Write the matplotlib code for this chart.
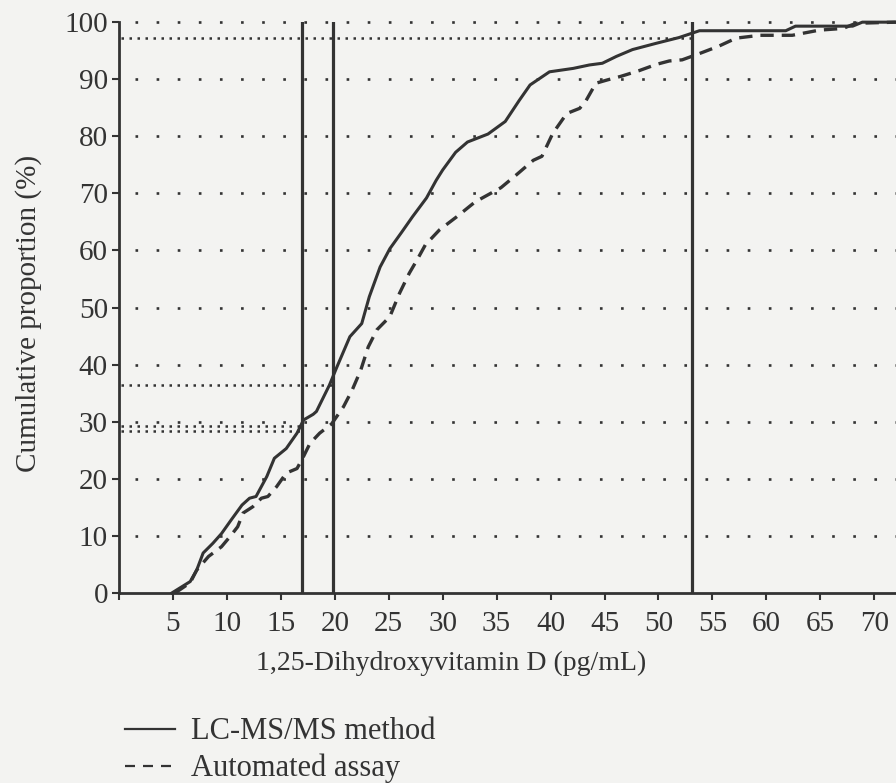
import matplotlib
matplotlib.use('Agg')
import matplotlib.pyplot as plt
from matplotlib.lines import Line2D

# data
lcms_x = [4.9, 6.6, 7.2, 7.8, 8.7, 9.5, 10.4, 11.4, 12.1, 12.7, 13.7, 14.4, 15.5, 16.5, 17.1,
          18.0, 18.3, 18.9, 19.5, 20.2, 21.4, 22.5, 23.2, 24.2, 25.1, 26.2, 27.2, 28.5, 29.4,
          30.0, 31.2, 32.3, 34.2, 35.8, 37.1, 38.1, 39.9, 42.1, 43.6, 44.8, 46.1, 47.6, 49.8,
          51.9, 53.8, 61.8, 62.7, 68.0, 68.9, 72.0]
lcms_y = [0, 2.0, 4.0, 7.0, 8.7, 10.4, 12.8, 15.4, 16.6, 16.9, 20.4, 23.6, 25.3, 28.0, 30.3,
          31.3, 31.8, 34.1, 36.4, 39.6, 44.9, 47.2, 51.9, 57.1, 60.3, 63.2, 65.9, 69.2, 72.3,
          74.1, 77.2, 79.0, 80.4, 82.6, 86.3, 89.0, 91.3, 91.9, 92.5, 92.8, 94.0, 95.2, 96.3,
          97.3, 98.5, 98.5, 99.3, 99.3, 100, 100]

auto_x = [5.2, 6.6, 7.2, 8.3, 9.5, 10.3, 11.0, 11.5, 12.4, 13.2, 13.8, 14.6, 15.5, 16.5, 17.1,
          17.7, 18.6, 19.7, 20.8, 21.6, 22.4, 23.1, 23.9, 25.1, 26.0, 26.9, 27.7, 28.4, 29.7,
          31.3, 33.0, 35.4, 36.8, 38.4, 39.2, 40.2, 41.5, 42.7, 43.3, 44.2, 45.3, 46.5, 48.2,
          49.8, 51.0, 52.2, 53.8, 55.6, 57.2, 59.4, 62.4, 64.9, 67.1, 68.3, 72.0]
auto_y = [0, 1.8, 4.0, 6.4, 8.1, 9.9, 11.6, 14.0, 15.1, 16.6, 16.9, 18.6, 21.0, 21.8, 23.9,
          26.2, 28.0, 29.6, 32.6, 35.5, 39.0, 43.1, 46.1, 48.4, 52.5, 56.0, 58.6, 61.0, 63.6,
          65.9, 68.5, 71.0, 73.2, 75.8, 76.5, 80.5, 84.0, 84.9, 86.3, 89.3, 89.9, 90.5, 91.5,
          92.6, 93.2, 93.4, 94.5, 95.8, 97.2, 97.7, 97.7, 98.6, 98.9, 99.8, 100]

cut_x = [17.0, 19.8, 53.1]          # vertical reference lines
ref_y = [97.3, 36.4, 29.2, 28.4]    # horizontal reference lines
ref_end = [53.1, 19.8, 17.0, 17.0]  # where each one stops

x_ticks = list(range(0, 75, 5))
x_labels = [''] + [str(v) for v in range(5, 75, 5)]
y_ticks = list(range(0, 110, 10))

ink = '#333333'
paper = '#f3f3f1'
plt.rcParams['font.family'] = ['Liberation Serif', 'DejaVu Serif']

fig = plt.figure(figsize=(8.96, 7.83), dpi=100, facecolor=paper)
ax = fig.add_axes([0.1328, 0.2427, 0.867, 0.729])
ax.set_facecolor(paper)

# dotted grid
for v in y_ticks[1:]:
    ax.plot([1.5, 72], [v, v], color=ink, lw=1.9, ls=(0, (1, 7)), clip_on=False)

for v, e in zip(ref_y, ref_end):
    ax.plot([0.2, e], [v, v], color=ink, lw=1.8, ls=(0, (1, 2.2)))

for c in cut_x:
    ax.plot([c, c], [0, 100], color=ink, lw=2.3)

ax.plot(lcms_x, lcms_y, color=ink, lw=2.2, clip_on=False)
ax.plot(auto_x, auto_y, color=ink, lw=2.4, ls=(0, (4, 2.4)), clip_on=False)

ax.set_xlim(0, 72)
ax.set_ylim(0, 100)
ax.spines['top'].set_visible(False)
ax.spines['right'].set_visible(False)
for s in ['left', 'bottom']:
    ax.spines[s].set_color(ink)
    ax.spines[s].set_linewidth(2)

ax.set_xticks(x_ticks)
ax.set_xticklabels(x_labels)
ax.set_yticks(y_ticks)
ax.tick_params(colors=ink, labelsize=21, width=1.5, length=5)
ax.tick_params(axis='x', pad=8)
ax.tick_params(axis='y', pad=3)

ax.set_xlabel('1,25-Dihydroxyvitamin D (pg/mL)', fontsize=20, color=ink)
ax.set_ylabel('Cumulative proportion (%)', fontsize=21, color=ink)
ax.xaxis.label.set_va('center')
ax.yaxis.label.set_va('center')
ax.xaxis.set_label_coords(0.427, -0.123)
ax.yaxis.set_label_coords(-0.117, 0.49)

handles = [Line2D([], [], color=ink, lw=1.6),
           Line2D([], [], color=ink, lw=1.6, ls=(0, (4.5, 3.6)))]
fig.legend(handles, ['LC-MS/MS method', 'Automated assay'], loc='upper left',
           bbox_to_anchor=(0.1395, 0.084), frameon=False, fontsize=22,
           handlelength=1.65, handletextpad=0.5, labelspacing=0.25,
           borderaxespad=0, borderpad=0, labelcolor=ink)

fig.savefig('out.png', dpi=100, facecolor=paper)
